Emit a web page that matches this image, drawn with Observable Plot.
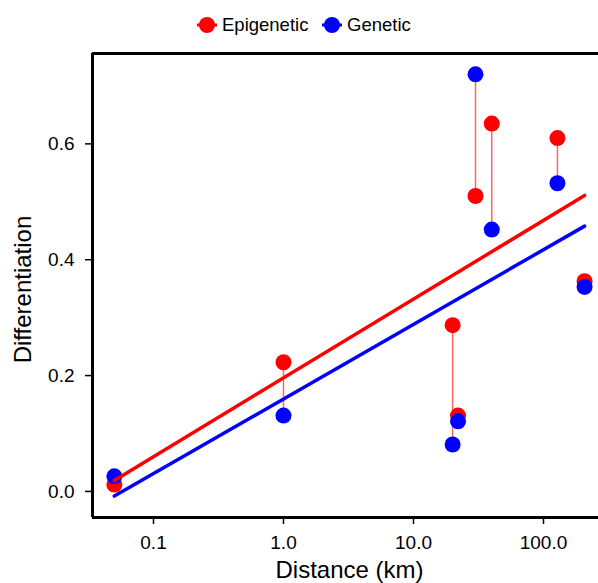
<!DOCTYPE html>
<html>
<head>
<meta charset="utf-8">
<script src="https://cdn.jsdelivr.net/npm/d3@7"></script>
<script src="https://cdn.jsdelivr.net/npm/@observablehq/plot@0.6"></script>
<style>
  html, body { margin: 0; padding: 0; background: white; }
  body { width: 598px; height: 583px; overflow: hidden; font-family: 'Liberation Sans', Arial, sans-serif; }
  #legend { position: relative; width: 598px; height: 45px; font-size: 18.5px; color: black; }
  .item { position: absolute; top: 2px; height: 45px; display: flex; align-items: center; white-space: nowrap; }
  .item svg { margin-right: 4px; }
</style>
</head>
<body>
<div id="legend"></div>
<div id="chart"></div>
<script>
// ---- data ----
const distanceKm = [0.05, 1, 20, 22, 30, 40, 128, 207];
const epigenetic = [0.012, 0.223, 0.287, 0.131, 0.510, 0.635, 0.610, 0.363];
const genetic    = [0.026, 0.131, 0.081, 0.121, 0.720, 0.452, 0.532, 0.353];
const fitDistance   = [0.05, 207];
const epigeneticFit = [0.019, 0.511];
const geneticFit    = [-0.008, 0.458];
const xTicks = [0.1, 1, 10, 100];
const yTicks = [0, 0.2, 0.4, 0.6];
const seriesNames  = ["Epigenetic", "Genetic"];
const seriesColors = ["#ff0000", "#0000ff"];
const legendLeft   = [196, 321];
const xLabel = "Distance (km)";
const yLabel = "Differentiation";

const xDomain = [0.03395, 264.9];
const yDomain = [-0.045, 0.756];

// ---- legend ----
const legend = document.getElementById("legend");
seriesNames.forEach((name, i) => {
  const item = document.createElement("div");
  item.className = "item";
  item.style.left = legendLeft[i] + "px";
  item.innerHTML = `<svg width="22" height="18" viewBox="0 0 22 18"><line x1="1" x2="21" y1="9" y2="9" stroke="${seriesColors[i]}" stroke-width="3"/><circle cx="11" cy="9" r="8" fill="${seriesColors[i]}"/></svg><span>${name}</span>`;
  legend.appendChild(item);
});

// ---- chart ----
const pairs = distanceKm.map((d, i) => ({d, e: epigenetic[i], g: genetic[i]}));
const epiRows = distanceKm.map((d, i) => ({d, v: epigenetic[i]}));
const genRows = distanceKm.map((d, i) => ({d, v: genetic[i]}));
const epiFitRows = fitDistance.map((d, i) => ({d, v: epigeneticFit[i]}));
const genFitRows = fitDistance.map((d, i) => ({d, v: geneticFit[i]}));
const fmt = d3.format(".1f");

const chart = Plot.plot({
  width: 598,
  height: 538,
  marginLeft: 92,
  marginRight: 0,
  marginTop: 8,
  marginBottom: 66,
  style: {fontFamily: "'Liberation Sans', Arial, sans-serif", fontSize: "19px", color: "black", background: "white", overflow: "visible"},
  x: {type: "log", domain: xDomain},
  y: {domain: yDomain},
  marks: [
    Plot.axisX({ticks: xTicks, tickFormat: fmt, tickSize: 7, tickPadding: 11, fontSize: 19, label: null, strokeWidth: 1.5}),
    Plot.axisY({ticks: yTicks, tickFormat: fmt, tickSize: 7, tickPadding: 11, fontSize: 19, label: null, strokeWidth: 1.5}),
    Plot.ruleX([xDomain[0]], {stroke: "black", strokeWidth: 3}),
    Plot.ruleY(yDomain, {stroke: "black", strokeWidth: 3}),
    Plot.link(pairs, {x1: "d", x2: "d", y1: "e", y2: "g", stroke: seriesColors[0], strokeOpacity: 0.6, strokeWidth: 1.5}),
    Plot.dot(epiRows, {x: "d", y: "v", r: 8, fill: seriesColors[0]}),
    Plot.dot(genRows, {x: "d", y: "v", r: 8, fill: seriesColors[1]}),
    Plot.line(epiFitRows, {x: "d", y: "v", stroke: seriesColors[0], strokeWidth: 3.5}),
    Plot.line(genFitRows, {x: "d", y: "v", stroke: seriesColors[1], strokeWidth: 3.5}),
    Plot.text([xLabel], {text: d => d, frameAnchor: "bottom", textAnchor: "middle", lineAnchor: "middle", dx: 4, dy: 53, fontSize: 24, fill: "black"}),
    Plot.text([yLabel], {text: d => d, frameAnchor: "left", textAnchor: "middle", lineAnchor: "middle", rotate: -90, dx: -69, dy: 4, fontSize: 24, fill: "black"})
  ]
});
document.getElementById("chart").appendChild(chart);
</script>
</body>
</html>
